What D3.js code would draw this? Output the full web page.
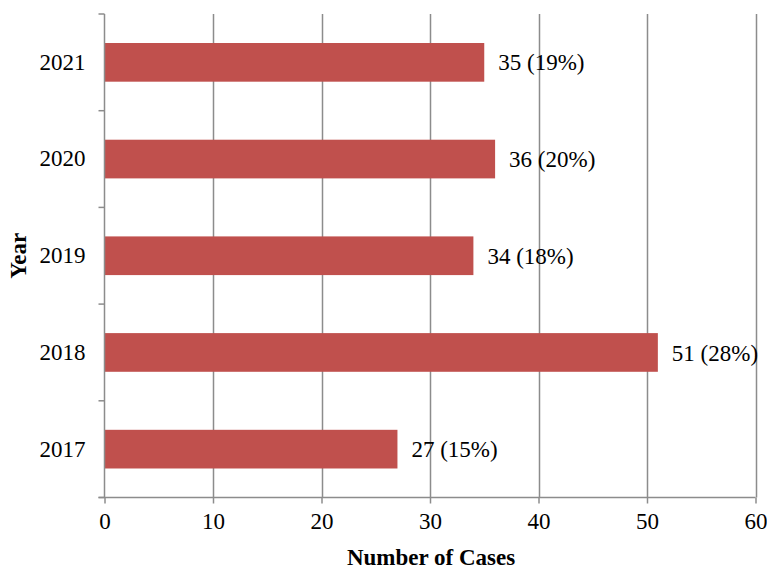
<!DOCTYPE html>
<html><head><meta charset="utf-8">
<script src="https://d3js.org/d3.v7.min.js"></script>
<style>body{margin:0;background:#fff}svg{display:block}</style>
</head><body>
<script>
const years = ["2017","2018","2019","2020","2021"];
const cases = [27, 51, 34, 36, 35];
const pctLabels = ["15%","28%","18%","20%","19%"];
const xTicks = [0,10,20,30,40,50,60];

const W = 767, H = 569;
const mLeft = 104.5, mRight = 755.5, mTop = 14, mBottom = 497.5;
const svg = d3.select("body").append("svg").attr("width", W).attr("height", H);
const font = "'Liberation Serif','Times New Roman',serif";
const fs = 23;

const x = d3.scaleLinear().domain([0,60]).range([mLeft, mRight]);
const y = d3.scaleBand().domain(years.slice().reverse()).range([mTop, mBottom]).paddingInner(0.6).paddingOuter(0.3);
const yb = d3.scaleBand().domain(years.slice().reverse()).range([mTop, mBottom]);

// gridlines
svg.append("g").selectAll("line").data(xTicks.slice(1)).join("line")
  .attr("x1", d => Math.round(x(d)) + 0.5).attr("x2", d => Math.round(x(d)) + 0.5)
  .attr("y1", mTop).attr("y2", mBottom)
  .attr("stroke", "#8c8c8c").attr("stroke-width", 1.5);

// bars
svg.append("g").selectAll("rect").data(years).join("rect")
  .attr("x", x(0)).attr("y", (d) => y(d))
  .attr("width", (d,i) => x(cases[i]) - x(0)).attr("height", y.bandwidth())
  .attr("fill", "#C0504D");

// value labels
svg.append("g").selectAll("text").data(years).join("text")
  .attr("x", (d,i) => x(cases[i]) + 14).attr("y", d => y(d) + y.bandwidth()/2)
  .attr("dy", "0.35em")
  .attr("font-family", font).attr("font-size", fs).attr("fill", "#000")
  .text((d,i) => cases[i] + " (" + pctLabels[i] + ")");

// x axis
const xAxis = svg.append("g").attr("transform", `translate(0,${mBottom})`)
  .call(d3.axisBottom(x).tickValues(xTicks).tickSize(6).tickSizeOuter(0).tickPadding(9));
xAxis.select(".domain").attr("stroke", "#8c8c8c").attr("stroke-width", 1.5)
  .attr("d", `M${mLeft-6},0H${mRight}`);
xAxis.selectAll(".tick line").attr("stroke", "#8c8c8c").attr("stroke-width", 1.5);
xAxis.selectAll("text").attr("font-family", font).attr("font-size", fs).attr("fill", "#000");

// y axis
const yAxis = svg.append("g").attr("transform", `translate(${mLeft},0)`)
  .call(d3.axisLeft(yb).tickSize(0).tickPadding(19));
yAxis.select(".domain").attr("stroke", "#8c8c8c").attr("stroke-width", 1.5).attr("d", `M0,${mTop}V${mBottom}`);
yAxis.selectAll("text").attr("font-family", font).attr("font-size", fs).attr("fill", "#000");
// boundary ticks
const bounds = years.map(d => yb(d)).concat([mBottom]);
svg.append("g").selectAll("line").data(bounds).join("line")
  .attr("x1", mLeft - 6).attr("x2", mLeft).attr("y1", d => d).attr("y2", d => d)
  .attr("stroke", "#8c8c8c").attr("stroke-width", 1.5);

// axis titles
svg.append("text").attr("x", 431).attr("y", 565)
  .attr("text-anchor", "middle").attr("font-family", font).attr("font-weight", "bold").attr("font-size", fs)
  .text("Number of Cases");
svg.append("text").attr("transform", `translate(26,${(mTop+mBottom)/2}) rotate(-90)`)
  .attr("text-anchor", "middle").attr("font-family", font).attr("font-weight", "bold").attr("font-size", fs)
  .text("Year");
</script>
</body></html>
